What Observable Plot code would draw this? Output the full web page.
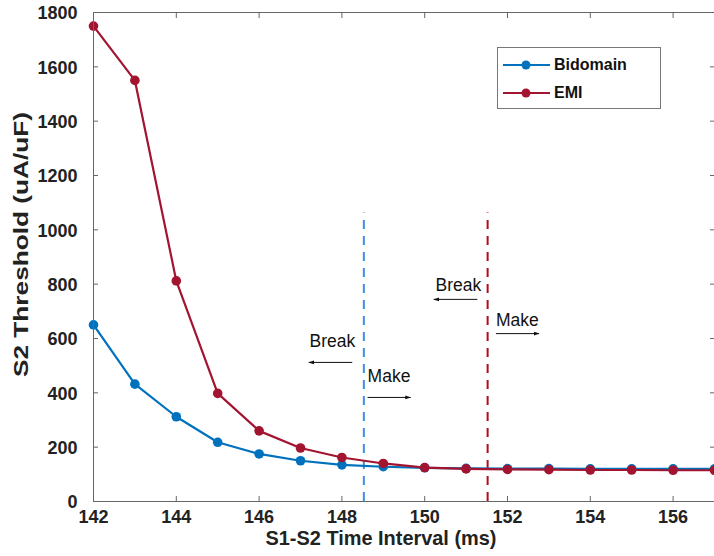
<!DOCTYPE html>
<html><head><meta charset="utf-8">
<script src="https://cdn.jsdelivr.net/npm/d3@7"></script>
<script src="https://cdn.jsdelivr.net/npm/@observablehq/plot@0.6"></script>
<style>
body{margin:0;background:#fff;font-family:"Liberation Sans",Arial,sans-serif;}
#wrap{position:relative;width:714px;height:556px;}
#legend{position:absolute;left:497px;top:47px;width:164px;height:62px;border:1px solid #777;background:#fff;box-sizing:border-box;font-weight:bold;font-size:16px;color:#111;}
.item{position:absolute;left:5px;height:20px;display:flex;align-items:center;}
.item svg{margin-right:4px}
</style></head>
<body><div id="wrap"><div id="chart"></div><div id="legend"></div></div>
<script>
const intervals = [142,143,144,145,146,147,148,149,150,151,152,153,154,155,156,157];
const bidomain = [650,432,312,218,175,150,135,128,124,122,121,121,120,120,120,120];
const emi = [1750,1550,812,398,260,197,162,140,125,120,118,117,116,116,115,115];
const seriesNames = ["Bidomain","EMI"];
const seriesColors = ["#0072BD","#A2142F"];
const xTicks = [142,144,146,148,150,152,154,156];
const yTicks = [0,200,400,600,800,1000,1200,1400,1600,1800];
const xTitle = "S1-S2 Time Interval (ms)";
const yTitle = "S2 Threshold (uA/uF)";
const thresholdX = [148.53, 151.52];
const thresholdColors = ["#3f8fde","#b00d1c"];
const thresholdTop = 1062;
const labels = [
  {text:"Break", x:147.22, y:590},
  {text:"Make", x:148.62, y:460},
  {text:"Break", x:150.26, y:795},
  {text:"Make", x:151.72, y:667}
];
const arrows = [
  {x1:148.25, x2:147.2, y:512},
  {x1:148.62, x2:149.66, y:383},
  {x1:151.27, x2:150.22, y:744},
  {x1:151.72, x2:152.76, y:618}
];

const rows = [];
intervals.forEach((t,i)=>{ rows.push({t, v:bidomain[i], s:seriesNames[0]}); });
intervals.forEach((t,i)=>{ rows.push({t, v:emi[i], s:seriesNames[1]}); });
const vlines = thresholdX.map((x,i)=>({x, c:thresholdColors[i]}));

function triangle(color, context){
  const m = d3.select(context.document.createElementNS("http://www.w3.org/2000/svg","marker"))
    .attr("viewBox","-5 -5 10 10").attr("markerWidth",6).attr("markerHeight",6)
    .attr("markerUnits","userSpaceOnUse").attr("refX",4).attr("orient","auto");
  m.append("path").attr("d","M-5,-3.2L5,0L-5,3.2Z").attr("fill",color).attr("stroke","none");
  return m.node();
}

const chart = Plot.plot({
  width:714, height:556,
  marginLeft:93, marginRight:0, marginTop:12, marginBottom:55,
  style:{fontFamily:"Liberation Sans, Arial, sans-serif", fontSize:"18px", fontWeight:"bold", color:"#222"},
  x:{domain:[142,157], axis:null},
  y:{domain:[0,1800], axis:null},
  color:{domain:seriesNames, range:seriesColors},
  marks:[
    Plot.ruleX(vlines,{x:"x", y1:0, y2:thresholdTop, stroke:"c", strokeWidth:2, strokeDasharray:"9,7"}),
    Plot.line(rows,{x:"t", y:"v", z:"s", stroke:"s", strokeWidth:2.2}),
    Plot.dot(rows,{x:"t", y:"v", fill:"s", r:4.8}),
    Plot.text(labels,{x:"x", y:"y", text:"text", textAnchor:"start", fontSize:17.5, fontWeight:"normal", fill:"#111"}),
    Plot.link(arrows,{x1:"x1", x2:"x2", y1:"y", y2:"y", stroke:"#111", strokeWidth:1, markerEnd:triangle}),
    Plot.frame({stroke:"#666", strokeWidth:1}),
    Plot.axisX({ticks:xTicks, tickSize:-5, stroke:"#666", tickFormat:()=>"", label:null}),
    Plot.axisX({ticks:xTicks, anchor:"top", tickSize:-5, stroke:"#666", tickFormat:()=>"", label:null}),
    Plot.axisY({ticks:yTicks, tickSize:-5, stroke:"#666", tickFormat:()=>"", label:null}),
    Plot.axisY({ticks:yTicks, anchor:"right", tickSize:-5, stroke:"#666", tickFormat:()=>"", label:null}),
    Plot.text(xTicks,{x:d=>d, frameAnchor:"bottom", text:d=>String(d), dy:21, fontSize:18, fontWeight:"bold", fill:"#222"}),
    Plot.text(yTicks,{y:d=>d, frameAnchor:"left", text:d=>String(d), textAnchor:"end", dx:-16, dy:1, fontSize:18, fontWeight:"bold", fill:"#222"}),
    Plot.text([xTitle],{frameAnchor:"bottom", text:d=>d, dx:-23, dy:43, fontSize:21, fontWeight:"bold", fill:"#222"}),
    Plot.text([yTitle],{frameAnchor:"left", text:d=>d, rotate:-90, textAnchor:"start", dx:-72, dy:120, fontSize:21, fontWeight:"bold", fill:"#222"})
  ]
});
document.getElementById("chart").appendChild(chart);

// stretch the axis titles to the lengths they have in the reference
d3.select(chart).selectAll("text").each(function(){
  const t = this.textContent.trim();
  if (t === xTitle) d3.select(this).attr("textLength", 231).attr("lengthAdjust","spacingAndGlyphs");
  if (t === yTitle) d3.select(this).attr("textLength", 265).attr("lengthAdjust","spacingAndGlyphs");
});

const lg = document.getElementById("legend");
seriesNames.forEach((n,i)=>{
  const d = document.createElement("div");
  d.className="item";
  d.style.top = (7 + i*28) + "px";
  d.innerHTML = `<svg width="47" height="12"><line x1="0" y1="6" x2="47" y2="6" stroke="${seriesColors[i]}" stroke-width="2"/><circle cx="23" cy="6" r="4.5" fill="${seriesColors[i]}"/></svg><span>${n}</span>`;
  lg.appendChild(d);
});
</script></body></html>
